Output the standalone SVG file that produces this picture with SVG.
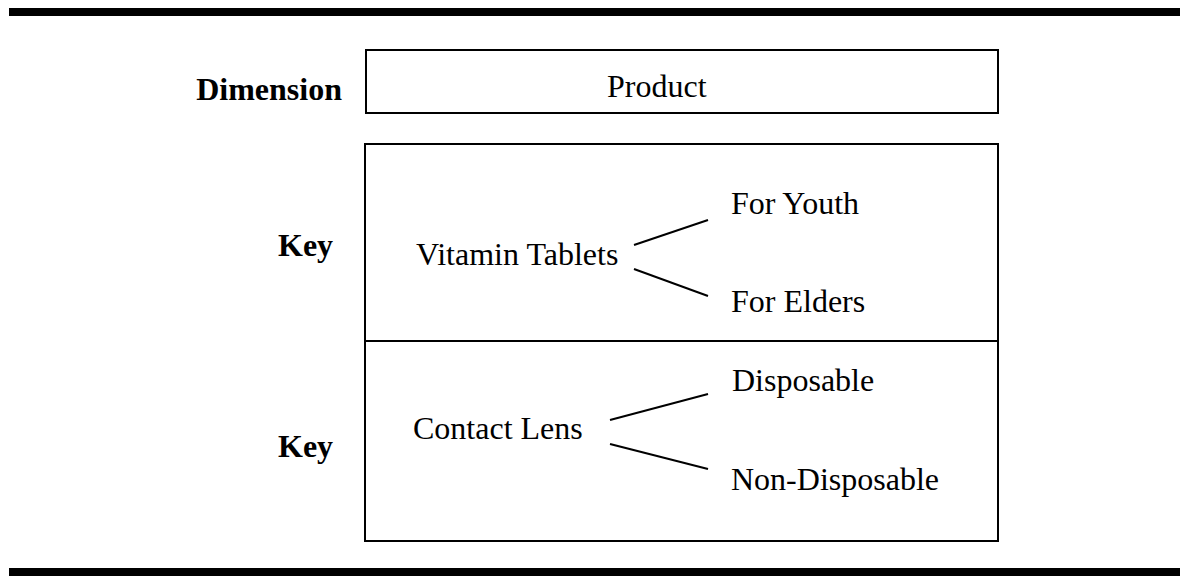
<svg xmlns="http://www.w3.org/2000/svg" width="1180" height="576" viewBox="0 0 1180 576">
  <style>
    .t { font-family: "Liberation Serif", "Times New Roman", serif; font-size: 32px; fill: #000; }
    .b { font-weight: bold; }
    .box { fill: none; stroke: #000; stroke-width: 2; }
    .link { stroke: #000; stroke-width: 2; fill: none; }
  </style>
  <rect width="1180" height="576" fill="#fff"/>

  <!-- rules at top and bottom -->
  <rect x="9" y="8" width="1171" height="8" fill="#000"/>
  <rect x="9" y="568" width="1171" height="8" fill="#000"/>

  <!-- row labels -->
  <g id="labels">
    <text class="t b" x="342" y="100" text-anchor="end">Dimension</text>
    <text class="t b" x="278" y="256">Key</text>
    <text class="t b" x="278" y="457">Key</text>
  </g>

  <g id="dimension">
    <rect class="box" x="366" y="50" width="632" height="63"/>
    <text class="t" x="607" y="97">Product</text>
  </g>

  <g id="keys-frame">
    <rect class="box" x="365" y="144" width="633" height="397"/>
    <line class="box" x1="365" y1="341" x2="998" y2="341"/>
  </g>

  <g id="vitamin">
    <text class="t" x="416" y="265">Vitamin Tablets</text>
  </g>
  <g id="youth">
    <text class="t" x="731" y="214">For Youth</text>
  </g>
  <g id="elders">
    <text class="t" x="731" y="312">For Elders</text>
  </g>

  <g id="contact">
    <text class="t" x="413" y="439">Contact Lens</text>
  </g>
  <g id="disposable">
    <text class="t" x="732" y="391">Disposable</text>
  </g>
  <g id="non-disposable">
    <text class="t" x="731" y="490">Non-Disposable</text>
  </g>

  <g id="connectors">
    <line class="link" x1="634" y1="245" x2="708" y2="220"/>
    <line class="link" x1="634" y1="269" x2="708" y2="296"/>
    <line class="link" x1="610" y1="420" x2="708" y2="394"/>
    <line class="link" x1="610" y1="444" x2="708" y2="469"/>
  </g>
</svg>
